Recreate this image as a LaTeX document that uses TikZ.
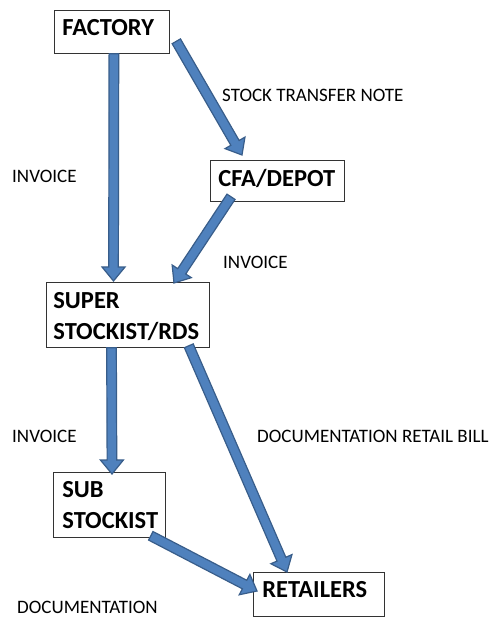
\documentclass[tikz,border=0pt]{standalone}
\usepackage{fontspec}
\setmainfont{Carlito}
\usetikzlibrary{calc}
\definecolor{arrfill}{HTML}{4F81BD}
\definecolor{arrline}{HTML}{385D8A}
\tikzset{
  box/.style={draw=black!80, line width=0.8pt, fill=white, anchor=north west,
    inner ysep=0pt, align=left, font=\bfseries\fontsize{24.5}{31}\selectfont},
  lbl/.style={anchor=base west, inner sep=0pt, font=\fontsize{19}{23}\selectfont},
  blk/.style={fill=arrfill, draw=arrline, line width=1.2pt, line join=miter},
}
\newcommand\blockarrow[2]{%
  \coordinate (bkA) at #1;
  \coordinate (bkB) at #2;
  \coordinate (bkH) at ($(bkB)!14pt!(bkA)$);
  \filldraw[blk] ($(bkA)!4.8pt!90:(bkB)$) -- ($(bkH)!4.8pt!90:(bkB)$)
    -- ($(bkH)!11.5pt!90:(bkB)$) -- (bkB) -- ($(bkH)!11.5pt!-90:(bkB)$)
    -- ($(bkH)!4.8pt!-90:(bkB)$) -- ($(bkA)!4.8pt!-90:(bkB)$) -- cycle;}
\begin{document}
\begin{tikzpicture}[x=1pt, y=-1pt]
\useasboundingbox (0,0) rectangle (491,617);
% boxes
\node[box, inner xsep=8pt, text width=99pt, text height=25pt, text depth=18pt] (factory) at (54,10) {FACTORY};
\node[box, inner xsep=8pt, text width=118pt, text height=26pt, text depth=15pt] (cfa) at (210,160) {CFA/DEPOT};
\node[box, inner xsep=7pt, text width=149pt, text height=26pt, text depth=39pt] (super) at (46,282) {SUPER\\STOCKIST/RDS};
\node[box, inner xsep=9pt, text width=94pt, text height=25pt, text depth=40pt] (sub) at (53,472) {SUB\\STOCKIST};
\node[box, inner xsep=9pt, text width=113pt, text height=25pt, text depth=19pt] (ret) at (253,572) {RETAILERS};
% labels
\node[lbl] (l1) at (12,183) {INVOICE};
\node[lbl] (l2) at (222,102) {STOCK TRANSFER NOTE};
\node[lbl] (l3) at (223,268) {INVOICE};
\node[lbl] (l4) at (12,442) {INVOICE};
\node[lbl] (l5) at (257,442) {DOCUMENTATION RETAIL BILL};
\node[lbl] (l6) at (17,613) {DOCUMENTATION};
% arrows
\blockarrow{($(factory.south)+(2,0)$)}{($(super.north west)+(67.5,-1)$)}
\blockarrow{($(factory.south east)+(6.5,-12.5)$)}{($(cfa.north west)+(32,-5)$)}
\blockarrow{($(cfa.south west)+(21,-5)$)}{($(super.north west)+(128,1)$)}
\blockarrow{($(super.south west)+(65.5,0)$)}{($(sub.north west)+(59,2)$)}
\blockarrow{($(super.south east)+(-21,-2)$)}{($(ret.north west)+(34,0)$)}
\blockarrow{($(sub.south east)+(-15,-2)$)}{($(ret.north west)+(4,19)$)}
\end{tikzpicture}
\end{document}
